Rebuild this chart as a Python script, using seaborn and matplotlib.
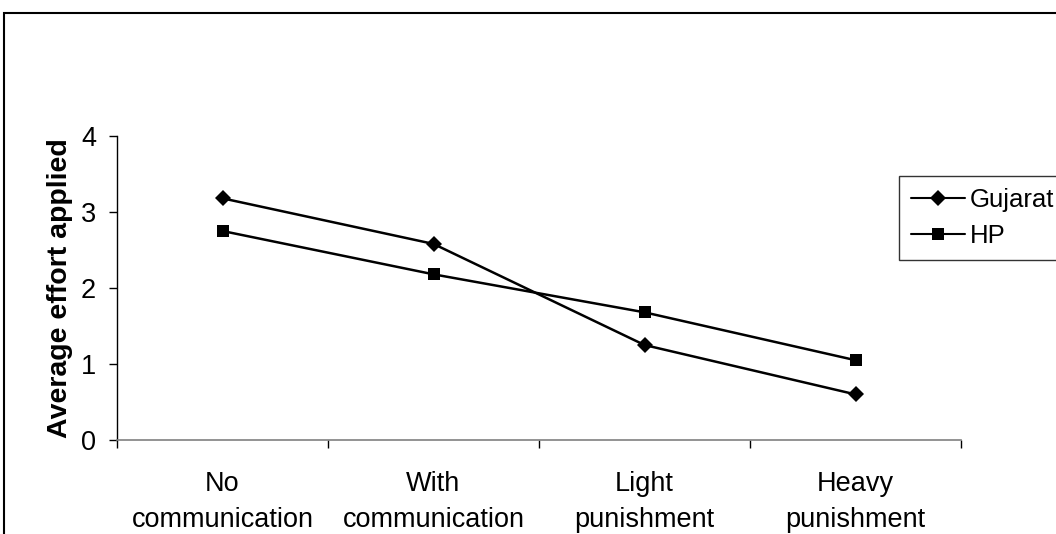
import matplotlib
matplotlib.use("Agg")
import matplotlib.pyplot as plt
import seaborn as sns
import pandas as pd
from matplotlib.patches import Rectangle
from matplotlib.lines import Line2D

categories = ["No\ncommunication", "With\ncommunication", "Light\npunishment", "Heavy\npunishment"]
gujarat = [3.18, 2.58, 1.25, 0.60]
hp = [2.75, 2.18, 1.68, 1.05]
series_names = ["Gujarat", "HP"]

df = pd.DataFrame({
    "cat": list(range(len(categories))) * 2,
    "value": gujarat + hp,
    "series": [series_names[0]] * len(categories) + [series_names[1]] * len(categories),
})

sns.set_theme(style="white")
plt.rcParams["font.family"] = ["Liberation Sans", "DejaVu Sans"]
plt.rcParams["text.color"] = "black"
plt.rcParams["axes.labelcolor"] = "black"
plt.rcParams["xtick.color"] = "black"
plt.rcParams["ytick.color"] = "black"

W, H = 1056, 534
fig = plt.figure(figsize=(W / 100, H / 100), dpi=100)
ax = fig.add_axes([117 / W, 1 - 440 / H, (961 - 117) / W, (440 - 136) / H])

sns.lineplot(data=df, x="cat", y="value", hue="series", style="series",
             markers={"Gujarat": "D", "HP": "s"}, dashes=False,
             palette={"Gujarat": "black", "HP": "black"},
             markersize=8, linewidth=1.8, markeredgewidth=0, ax=ax, legend=False)

ax.set_xlim(-0.5, 3.5)
ax.set_ylim(0, 4)
ax.set_yticks([0, 1, 2, 3, 4])
ax.set_xticks([0, 1, 2, 3])
ax.set_xticklabels(categories, fontsize=19.5, linespacing=1.5, color="black")
ax.set_xticks([-0.5, 0.5, 1.5, 2.5, 3.5], minor=True)
ax.tick_params(axis="x", which="major", length=0, pad=22)
ax.tick_params(axis="x", which="minor", length=6, width=1, color="black", direction="out", bottom=True)
ax.tick_params(axis="y", length=6, width=1, color="black", labelcolor="black", direction="out",
               left=True, labelsize=19.5, pad=9)
ax.set_xlabel("")
ax.set_ylabel("Average effort applied", fontsize=20.5, fontweight="bold", labelpad=6, color="black")
for s in ["top", "right"]:
    ax.spines[s].set_visible(False)
ax.spines["left"].set_color("black")
ax.spines["bottom"].set_color("#808080")
ax.spines["left"].set_linewidth(1)
ax.spines["bottom"].set_linewidth(1.2)

handles = [Line2D([], [], color="black", marker="D", markersize=8, linewidth=1.5, markeredgewidth=0),
           Line2D([], [], color="black", marker="s", markersize=8, linewidth=1.5, markeredgewidth=0)]
leg = fig.legend(handles, series_names, loc="upper left",
                 bbox_to_anchor=(899 / W, 1 - 176 / H), fontsize=18.5, frameon=True,
                 fancybox=False, edgecolor="black", handlelength=2.1, handletextpad=0.2,
                 borderpad=0.45, labelspacing=0.5, borderaxespad=0)
leg.get_frame().set_linewidth(1)
for t in leg.get_texts():
    t.set_color("black")

fig.patches.append(Rectangle((4 / W, -0.2), 2, 1.2 - 13 / H, transform=fig.transFigure,
                             fill=False, edgecolor="black", linewidth=1.5))

fig.savefig("out.png", dpi=100, facecolor="white")
